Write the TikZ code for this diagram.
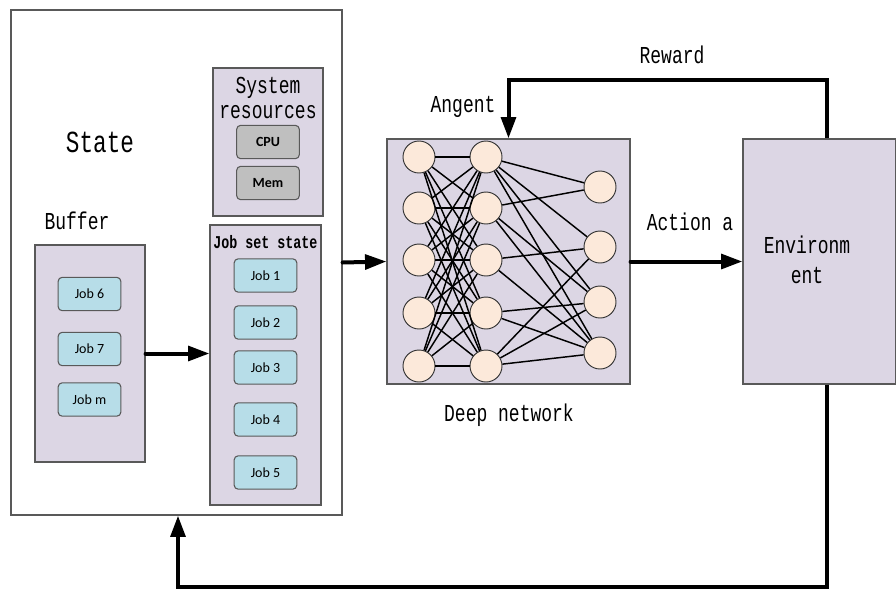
\documentclass[tikz,border=0pt]{standalone}
\usepackage{fontspec}
\setmainfont{Liberation Mono}
\newfontfamily\jobfont{Carlito}
\definecolor{boxlilac}{RGB}{220,214,228}
\definecolor{jobblue}{RGB}{183,221,232}
\definecolor{resgray}{RGB}{191,191,191}
\definecolor{neuronfill}{RGB}{252,233,218}
\definecolor{edgegray}{RGB}{89,89,89}
\usetikzlibrary{positioning,fit,arrows.meta,calc}
\tikzset{
	panel/.style={
		draw=edgegray, 
		fill=boxlilac, 
		line width=0.9pt, 
		inner sep=0pt},
	outerpanel/.style={draw=edgegray, line width=0.9pt, inner sep=0pt},
	jobbox/.style={
		rectangle, 
		rounded corners=3pt, 
		fill=jobblue, 
		draw=edgegray, line width=0.8pt,
		minimum width=47pt, 
		minimum height=25pt, 
		font=\jobfont\fontsize{10.5}{12}\selectfont},
	resbox/.style={jobbox, fill=resgray, font=\jobfont\bfseries\fontsize{10.5}{12}\selectfont},
	neuron/.style={
		circle, 
		draw=black!80, 
		fill=neuronfill, 
		line width=0.7pt, 
		minimum size=24pt, 
		inner sep=0pt},
	heading/.style={font=\fontsize{13.5}{13}\selectfont, inner sep=0pt, align=center,
		yscale=1.35, transform shape},
	bigarrow/.style={line width=3pt, line cap=round, -{Triangle[length=16pt,width=11pt]}},
	feedback/.style={line width=3pt, -{Triangle[length=16pt,width=11pt]}},
	synapse/.style={line width=1.1pt},
}

\begin{document}
\begin{tikzpicture}[x=0.75pt,y=-0.75pt]
\useasboundingbox (0,0) rectangle (896,590);
% state side
\node[outerpanel, fit={(11,10)(342,515)}] (state) {};
\node[heading, font=\fontsize{17}{20}\selectfont] (statetxt) at (100,142) {State};
\node[panel, fit={(213,68)(323,216)}] (sysres) {};
\node[heading] (systxt) at (268,98) {System\\[1pt]resources};
\node[resbox] (cpu) at (268,142) {CPU};
\node[resbox] (mem) at (268,183) {Mem};
\node[heading] (buftxt) at (77,221) {Buffer};
\node[panel, fit={(35,245)(145,462)}] (buffer) {};
\node[jobbox] (job6) at (89.5,294) {Job 6};
\node[jobbox] (job7) at (89.5,349) {Job 7};
\node[jobbox] (jobm) at (89.5,399.5) {Job m};
\node[panel, fit={(210,225)(321,505)}] (jobset) {};
\node[heading, font=\bfseries\fontsize{10}{12}\selectfont] (jobsettxt) at (265.5,242) {Job set state};
\node[jobbox] (job1) at (265.5,275.5) {Job 1};
\node[jobbox] (job2) at (265.5,322.5) {Job 2};
\node[jobbox] (job3) at (265.5,367.5) {Job 3};
\node[jobbox] (job4) at (265.5,419.5) {Job 4};
\node[jobbox] (job5) at (265.5,472.5) {Job 5};
% agent
\node[panel, fit={(387,139)(630,384)}] (net) {};
\node[heading] (agenttxt) at (463,107) {Angent};
\node[heading] (deeptxt) at (509,415) {Deep network};
\foreach \i/\y in {1/157,2/208,3/260,4/313,5/366}{
	\node[neuron] (in\i) at (419,\y) {};
	\node[neuron] (hid\i) at (486,\y) {};
}
\foreach \i/\y in {1/187,2/247,3/302,4/353}
	\node[neuron] (out\i) at (600,\y) {};
\foreach \i in {1,...,5}
	\foreach \j in {1,...,5}
		\draw[synapse] (in\i) -- (hid\j);
\foreach \i/\j in {1/1,1/2,1/3,1/4,2/1,2/3,2/4,3/2,3/4,4/3,4/4,5/2,5/3,5/4}
	\draw[synapse] (hid\i) -- (out\j);
% environment
\node[panel, fit={(743,139)(896,384)}] (env) {};
\node[heading] (envtxt) at (807,260) {Environm\\[4pt]ent};
\node[heading] (actiontxt) at (690,222) {Action a};
\node[heading] (rewardtxt) at (672,55) {Reward};
\coordinate (rwtop) at (827,80);
\coordinate (fbot) at (178,587);
% connectors
\draw[bigarrow] (buffer.east) -- (buffer.east -| jobset.west);
\draw[bigarrow] (state.east) -- (net.west);
\draw[bigarrow] (net.east) -- (env.west);
\draw[feedback] (env.north -| rwtop) -- (rwtop) -| (net.north);
\draw[feedback] (env.south -| rwtop) |- (fbot) -- (state.south -| fbot);
\end{tikzpicture}
\end{document}
